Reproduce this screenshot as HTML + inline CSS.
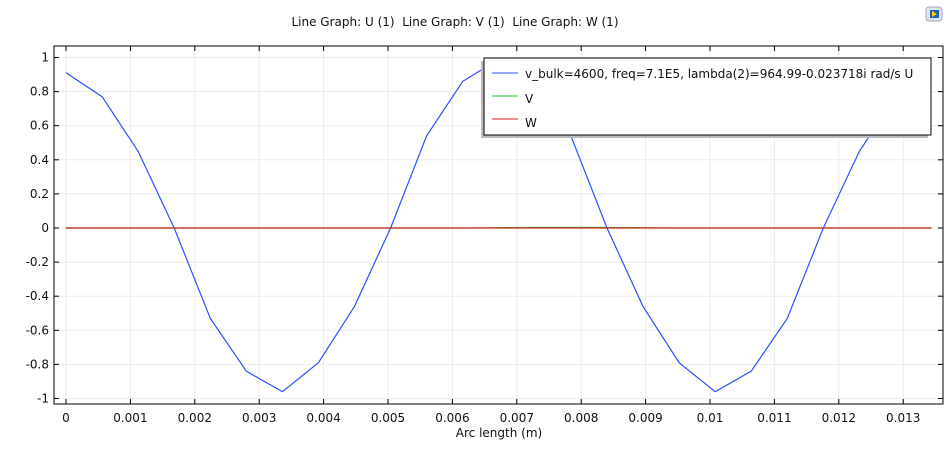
<!DOCTYPE html>
<html><head><meta charset="utf-8"><style>
body{margin:0;background:#fff;font-family:"DejaVu Sans","Liberation Sans",sans-serif;}
svg text{font-family:"DejaVu Sans","Liberation Sans",sans-serif;fill:#111;}
</style></head><body>
<svg id="chart" width="950" height="445" xmlns="http://www.w3.org/2000/svg">
<text x="455" y="26" font-size="12" text-anchor="middle" style="white-space:pre">Line Graph: U (1)  Line Graph: V (1)  Line Graph: W (1)</text>
<g><rect x="926" y="7" width="16" height="14" rx="3" fill="#dde6f0" stroke="#aab"/><rect x="930" y="10" width="9" height="8" fill="#1f5fbf"/><polygon points="932,11 937,14 932,17" fill="#ffd000"/></g>
<g id="grid"></g>
<g id="axes"></g>
<g id="series"></g>
<g>
<rect x="481" y="61" width="447" height="77" fill="#bbb"/>
<rect x="484" y="58" width="447" height="77" fill="#fff" stroke="#000"/>
<line x1="492" y1="73" x2="518" y2="73" stroke="#2b50ff"/><text x="525" y="78" font-size="12">v_bulk=4600, freq=7.1E5, lambda(2)=964.99-0.023718i rad/s U</text>
<line x1="492" y1="96" x2="518" y2="96" stroke="#1fc41f"/><text x="525" y="103" font-size="12">V</text>
<line x1="492" y1="119" x2="518" y2="119" stroke="#d42020"/><text x="525" y="127" font-size="12">W</text>
</g>
<text x="499" y="437" font-size="12" text-anchor="middle">Arc length (m)</text>
</svg>
<script>
const xTicks=[0,0.001,0.002,0.003,0.004,0.005,0.006,0.007,0.008,0.009,0.01,0.011,0.012,0.013];
const xTickLabels=["0","0.001","0.002","0.003","0.004","0.005","0.006","0.007","0.008","0.009","0.01","0.011","0.012","0.013"];
const yTicks=[-1,-0.8,-0.6,-0.4,-0.2,0,0.2,0.4,0.6,0.8,1];
const yTickLabels=["-1","-0.8","-0.6","-0.4","-0.2","0","0.2","0.4","0.6","0.8","1"];
const xStep=0.00056;
const uValues=[0.91,0.77,0.45,0.0,-0.53,-0.84,-0.96,-0.79,-0.46,0.0,0.54,0.86,0.99,0.86,0.54,0.0,-0.46,-0.79,-0.96,-0.84,-0.53,0.0,0.45,0.77,0.91];
const vValues=[0,0,0,0,0,0,0,0,0,0,0,0,0.002,0.003,0.003,0.003,0.002,0,0,0,0,0,0,0,0];
const wValues=[0,0,0,0,0,0,0,0,0,0,0,0,0,0,0,0,0,0,0,0,0,0,0,0,0];
const L=54,R=943,T=46,B=404;
const X=v=>66+v/0.001*64.4;
const Y=v=>228-v*170.5;
const ns="http://www.w3.org/2000/svg";
function mk(p,t,a){const e=document.createElementNS(ns,t);for(const k in a)e.setAttribute(k,a[k]);p.appendChild(e);return e;}
const g=document.getElementById('grid'),ax=document.getElementById('axes'),s=document.getElementById('series');
xTicks.forEach((t,i)=>{
 const l=mk(g,'line',{x1:X(t),x2:X(t),y1:T,y2:B,stroke:'#ebebeb'});
 
 
 mk(ax,'line',{x1:X(t),x2:X(t),y1:B,y2:B-5,stroke:'#000'});
 mk(ax,'line',{x1:X(t),x2:X(t),y1:T,y2:T+5,stroke:'#000'});
 const tx=mk(ax,'text',{x:X(t),y:B+18,'font-size':12,'text-anchor':'middle'});
 
 
 tx.textContent=xTickLabels[i];
});
yTicks.forEach((t,i)=>{
 const l=mk(g,'line',{x1:L,x2:R,y1:Y(t),y2:Y(t),stroke:'#ebebeb'});
 
 
 mk(ax,'line',{x1:L,x2:L+5,y1:Y(t),y2:Y(t),stroke:'#000'});
 mk(ax,'line',{x1:R,x2:R-5,y1:Y(t),y2:Y(t),stroke:'#000'});
 const tx=mk(ax,'text',{x:L-5,y:Y(t)+4,'font-size':12,'text-anchor':'end'});
 
 
 tx.textContent=yTickLabels[i];
});
mk(ax,'rect',{x:L,y:T,width:R-L,height:B-T,fill:'none',stroke:'#000'});
function line(vals,color,name){
 const pts=vals.map((v,i)=>X(i*xStep).toFixed(1)+','+Y(v).toFixed(1)).join(' ');
 const p=mk(s,'polyline',{points:pts,fill:'none',stroke:color,'stroke-width':1.2});
 
 
}
line(uValues,'#2b50ff','series-u');
line(vValues,'#1fc41f','series-v');
line(wValues,'#d42020','series-w');
</script>
</body></html>
